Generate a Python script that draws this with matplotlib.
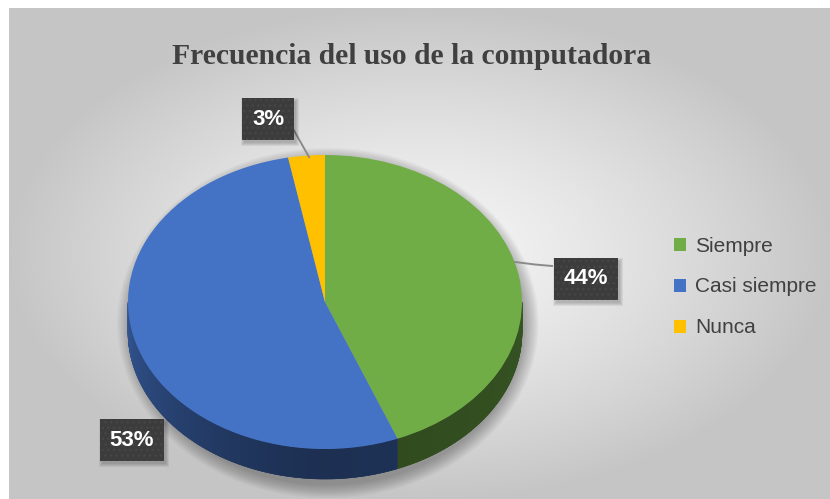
import numpy as np
import matplotlib
matplotlib.use('Agg')
import matplotlib.pyplot as plt
from matplotlib.patches import Ellipse, Polygon, Rectangle

# ---------------- data ----------------
categories = ['Siempre', 'Casi siempre', 'Nunca']
values = [44, 53, 3]
pct_labels = ['44%', '53%', '3%']
title = 'Frecuencia del uso de la computadora'
colors = ['#70AD47', '#4472C4', '#FFC000']

# ---------------- figure ----------------
W, H = 830, 499
fig = plt.figure(figsize=(W / 100, H / 100), dpi=100)
fig.patch.set_facecolor('white')

# background with radial gradient
ax_bg = fig.add_axes([0, 0, 1, 1])
x0, y0 = 9, 8
xs = np.arange(x0, W) + 0.5
ys = np.arange(y0, H) + 0.5
X, Y = np.meshgrid(xs, ys)
cxg, cyg = (x0 + W) / 2, (y0 + H) / 2
r = np.sqrt(((X - cxg) / ((W - x0) / 2)) ** 2 + ((Y - cyg) / ((H - y0) / 2)) ** 2)
v = 0.965 - 0.19 * np.clip(r, 0, 1) ** 1.3
ax_bg.imshow(np.dstack([v, v, v]), extent=(x0, W, H, y0), interpolation='bilinear', aspect='auto')
ax_bg.set_xlim(0, W)
ax_bg.set_ylim(H, 0)
ax_bg.axis('off')

# ---------------- 3D-ish pie ----------------
cx, cy, rx, ry, depth = 325, 302, 197, 147, 30
ax = fig.add_axes([(cx - rx) / W, (H - (cy + ry)) / H, 2 * rx / W, 2 * ry / H])
wedges, _ = ax.pie(values, colors=colors, startangle=90, counterclock=False, radius=1,
                   wedgeprops=dict(linewidth=0))
ax.set_aspect('auto')
ax.set_xlim(-1, 1)
ax.set_ylim(-1, 1)
ax.axis('off')
for w in wedges:
    w.set_zorder(3)
d = depth / ry

# soft shadow
for k in range(12, -1, -1):
    g = k / 12
    e = Ellipse((0.015, -d / 2 - 6 / ry), 2 * (1 + 0.07 * g), 2 * (1 + d / 2 + 0.09 * g),
                facecolor='black', alpha=0.022, lw=0, zorder=1, clip_on=False)
    ax.add_patch(e)


def side_factor(t):
    t = t % 360
    if t < 270:
        return 0.42 + 0.34 * ((270 - t) / 90) ** 1.4
    return 0.42 + 0.06 * ((t - 270) / 90)


for w, col in zip(wedges, colors):
    base = np.array(matplotlib.colors.to_rgb(col))
    t1, t2 = w.theta1, w.theta2
    for k in (-1, 0, 1):
        a = max(t1, 180 + 360 * k)
        b = min(t2, 360 + 360 * k)
        if b <= a:
            continue
        n = max(2, int((b - a) / 0.5))
        edges = np.linspace(a, b, n + 1)
        for i in range(n):
            ta, tb = edges[i], min(edges[i + 1] + 0.3, b)
            ra, rb = np.radians(ta), np.radians(tb)
            pts = [(np.cos(ra), np.sin(ra)), (np.cos(rb), np.sin(rb)),
                   (np.cos(rb), np.sin(rb) - d), (np.cos(ra), np.sin(ra) - d)]
            c = np.clip(base * side_factor((ta + tb) / 2), 0, 1)
            ax.add_patch(Polygon(pts, closed=True, facecolor=c, edgecolor=c, lw=0.4,
                                 zorder=2, clip_on=False))

# ---------------- labels ----------------
ax_t = fig.add_axes([0, 0, 1, 1])
ax_t.set_xlim(0, W)
ax_t.set_ylim(H, 0)
ax_t.axis('off')

label_pos = [(586, 279), (132, 440), (268, 119)]
leaders = [[(515, 262), (535, 264.5), (552, 266)], None, [(309, 157), (292, 127)]]
texts = []
for lab, (lx, ly), ld in zip(pct_labels, label_pos, leaders):
    if ld is not None:
        xs_, ys_ = zip(*ld)
        ax_t.plot(xs_, ys_, color='#8a8a8a', lw=1.4, zorder=3)
    t = ax_t.text(lx, ly, lab, ha='center', va='center', fontsize=16, fontweight='bold',
                  color='white', family='Liberation Sans',
                  bbox=dict(boxstyle='square,pad=0.46', fc='#3c3c3c', ec='#464646', lw=0,
                            hatch='...'), zorder=5)
    texts.append(t)

# soft drop shadows behind the label boxes
fig.canvas.draw()
inv = ax_t.transData.inverted()
for t in texts:
    bb = t.get_bbox_patch().get_window_extent()
    (ax0, ay0), (ax1, ay1) = inv.transform([(bb.x0, bb.y0), (bb.x1, bb.y1)])
    for k in range(4):
        g = k
        ax_t.add_patch(Rectangle((min(ax0, ax1) + 2 - g, min(ay0, ay1) + 3 - g),
                                 abs(ax1 - ax0) + 2 * g, abs(ay1 - ay0) + 2 * g,
                                 facecolor='black', alpha=0.06, lw=0, zorder=4))

# ---------------- title & legend ----------------
fig.text(412 / W, 1 - 56 / H, title, ha='center', va='center', family='Liberation Serif',
         fontweight='bold', fontsize=21.3, color='#404040')

fig.legend(wedges, categories, loc='center left', bbox_to_anchor=(674 / W, 1 - 287 / H),
           frameon=False, prop=dict(family='Liberation Sans', size=15), labelcolor='#404040',
           handlelength=0.58, handleheight=0.58, handletextpad=0.45, labelspacing=1.05,
           borderpad=0, borderaxespad=0)

fig.savefig('out.png', dpi=100)
